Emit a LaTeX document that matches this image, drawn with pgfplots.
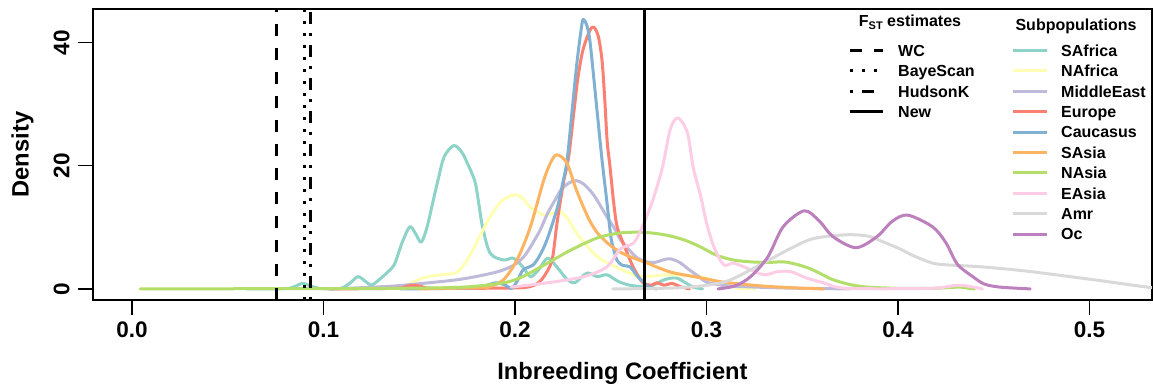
\documentclass[border=0pt]{standalone}
\usepackage{fontspec}
\setmainfont{Liberation Sans}
\usepackage{pgfplots}
\pgfplotsset{compat=1.18}
\definecolor{cSAf}{HTML}{8DD3C7}
\definecolor{cNAf}{HTML}{FFFFB3}
\definecolor{cME}{HTML}{BEBADA}
\definecolor{cEu}{HTML}{FB8072}
\definecolor{cCa}{HTML}{80B1D3}
\definecolor{cSAs}{HTML}{FDB462}
\definecolor{cNAs}{HTML}{B3DE69}
\definecolor{cEAs}{HTML}{FCCDE5}
\definecolor{cAmr}{HTML}{D9D9D9}
\definecolor{cOc}{HTML}{BC80BD}
\begin{document}
\begin{tikzpicture}[x=1pt,y=1pt]
\begin{axis}[at={(93pt,87pt)}, anchor=south west, scale only axis,
 width=1059pt, height=291pt,
 xmin=-0.0204, xmax=0.5326, ymin=-1.8, ymax=45.5,
 axis line style={line width=2.5pt},
 xtick={0,0.1,0.2,0.3,0.4,0.5}, xticklabels={0.0,0.1,0.2,0.3,0.4,0.5},
 ytick={0,20,40}, yticklabels={0,20,40},
 /pgf/number format/assume math mode=true,
 tick align=outside, xtick pos=bottom, ytick pos=left,
 major tick length=15pt, tick style={line width=1.2pt, black},
 ticklabel style={font=\fontsize{22.5}{27}\selectfont\bfseries},
 xticklabel style={anchor=base, inner sep=0pt, yshift=-23pt},
 yticklabel style={xshift=-8.5pt, rotate=90, anchor=base, inner sep=0pt},
 xlabel={Inbreeding Coefficient}, ylabel={Density},
 label style={font=\fontsize{23.7}{28}\selectfont\bfseries},
 xlabel style={at={(axis description cs:0.5,-0.2749)}, anchor=base, inner sep=0pt},
 ylabel style={at={(axis description cs:-0.0560,0.5)}, anchor=south, inner sep=0pt},
 every axis plot/.append style={line width=3pt, line join=round, line cap=round, no markers},
]
% SAfrica
\addplot[cSAf, smooth, tension=0.5] coordinates {(0.060,0) (0.080,0.05) (0.085,0.4) (0.089,0.9) (0.094,0.4) (0.099,0.05) (0.109,0.1) (0.114,1.0) (0.118,2.0) (0.122,1.2) (0.125,0.6) (0.129,1.5) (0.133,2.6) (0.137,4.0) (0.141,7.5) (0.145,10.1) (0.148,9.0) (0.151,7.6) (0.154,10) (0.157,14) (0.160,18) (0.163,21.5) (0.168,23.3) (0.172,22.3) (0.175,20.5) (0.179,17.5) (0.181,14) (0.183,10.1) (0.187,5.8) (0.194,4.7) (0.199,5.0) (0.204,3.6) (0.208,2.0) (0.212,3.0) (0.217,5.0) (0.222,3.5) (0.227,1.6) (0.231,1.0) (0.235,2.0) (0.238,2.6) (0.243,2.0) (0.248,2.3) (0.254,1.2) (0.260,0.6) (0.266,0.4) (0.272,0.6) (0.278,1.5) (0.284,1.8) (0.289,1.0) (0.293,0.3) (0.298,0)};
% NAfrica
\addplot[cNAf, smooth, tension=0.5] coordinates {(0.130,0) (0.140,0.3) (0.146,1.0) (0.152,1.8) (0.161,2.3) (0.169,2.6) (0.173,3.8) (0.177,5.8) (0.182,8.8) (0.187,11.7) (0.193,14.3) (0.200,15.3) (0.204,14.7) (0.208,13.3) (0.215,12.0) (0.220,12.3) (0.224,12.5) (0.228,11.2) (0.232,9.1) (0.237,7.2) (0.241,5.8) (0.246,4.6) (0.251,3.8) (0.258,2.8) (0.265,2.0) (0.272,2.1) (0.279,2.3) (0.288,2.2) (0.297,2.0) (0.307,1.0) (0.317,0.1) (0.325,0)};
% MiddleEast
\addplot[cME, smooth, tension=0.5] coordinates {(0.103,0) (0.120,0.2) (0.138,0.5) (0.155,1.0) (0.170,1.5) (0.181,2.1) (0.191,2.8) (0.197,3.5) (0.201,4.2) (0.205,5.4) (0.208,6.8) (0.213,9.5) (0.217,12.3) (0.221,14.5) (0.224,16.1) (0.228,17.2) (0.232,17.6) (0.236,17.0) (0.241,15.3) (0.245,13.3) (0.248,11.7) (0.252,9.8) (0.255,8.0) (0.260,6.2) (0.264,5.0) (0.269,4.4) (0.273,4.3) (0.277,4.7) (0.281,4.9) (0.286,4.3) (0.291,3.1) (0.296,2.0) (0.300,1.1) (0.308,0.6) (0.317,0.4) (0.335,0.2) (0.349,0.1) (0.375,0)};
% Europe
\addplot[cEu, smooth, tension=0.5] coordinates {(0.103,0) (0.138,0.1) (0.143,0.4) (0.147,0.6) (0.151,0.4) (0.156,0.1) (0.180,0.1) (0.203,0.2) (0.210,0.6) (0.2146,1.8) (0.2193,4.7) (0.2219,10.7) (0.2251,17) (0.2280,21.5) (0.2308,29) (0.2329,34.5) (0.2355,38.9) (0.2392,42.1) (0.2413,42.5) (0.2435,41) (0.2454,37.2) (0.2468,31) (0.2481,24) (0.2496,19.8) (0.2515,14) (0.2533,10.1) (0.2564,7.5) (0.2590,5.5) (0.2616,3.6) (0.2645,2.0) (0.2668,1.0) (0.271,0.6) (0.274,1.0) (0.278,0.6) (0.282,0.9) (0.286,0.4) (0.291,0)};
% Caucasus
\addplot[cCa, smooth, tension=0.5] coordinates {(0.140,0) (0.170,0.1) (0.182,0.3) (0.190,1.0) (0.195,0.6) (0.1984,0.1) (0.2015,1.5) (0.2042,3.1) (0.2094,3.9) (0.2130,5.5) (0.2167,8) (0.2219,13) (0.2251,17.5) (0.2272,21) (0.2298,29) (0.2324,37) (0.2350,43.2) (0.2360,43.7) (0.2375,42.8) (0.2392,40) (0.2428,29) (0.2454,21) (0.2480,14) (0.2500,8.5) (0.2512,6.8) (0.2533,4.6) (0.2564,3.8) (0.2600,3.6) (0.2640,2.0) (0.2668,1.2) (0.2700,0.3) (0.274,0)};
% SAsia
\addplot[cSAs, smooth, tension=0.5] coordinates {(0.150,0) (0.182,0.2) (0.187,0.4) (0.194,1.5) (0.201,4.7) (0.208,10.1) (0.215,17.7) (0.219,20.8) (0.222,21.8) (0.227,20.5) (0.232,16.1) (0.238,11.7) (0.243,9.1) (0.250,7.0) (0.256,5.8) (0.262,5.0) (0.269,4.2) (0.276,3.3) (0.283,2.6) (0.297,1.8) (0.309,1.1) (0.328,0.5) (0.344,0.2) (0.361,0)};
% NAsia
\addplot[cNAs, smooth, tension=0.5] coordinates {(0.0042,0) (0.088,0.05) (0.140,0.1) (0.173,0.3) (0.194,1.0) (0.204,2.0) (0.217,4.2) (0.229,6.3) (0.243,8.3) (0.255,9.1) (0.267,9.2) (0.278,8.8) (0.288,8.0) (0.297,6.8) (0.305,5.5) (0.314,4.7) (0.323,4.4) (0.332,4.3) (0.340,4.4) (0.347,4.0) (0.354,3.3) (0.360,2.4) (0.366,1.5) (0.375,0.7) (0.384,0.3) (0.400,0.1) (0.418,0.1) (0.426,0.2) (0.432,0.3) (0.437,0.1) (0.440,0)};
% EAsia
\addplot[cEAs, smooth, tension=0.5] coordinates {(0.198,0.3) (0.217,1.0) (0.236,2.0) (0.248,3.6) (0.255,6.5) (0.262,7.5) (0.267,10.5) (0.272,14.5) (0.277,19.8) (0.281,25.9) (0.285,27.8) (0.290,25.4) (0.293,19.8) (0.297,15) (0.300,10.7) (0.304,6.7) (0.309,3.9) (0.314,4.2) (0.321,3.4) (0.330,2.3) (0.337,2.8) (0.344,2.8) (0.352,1.8) (0.361,1.0) (0.373,0.1) (0.417,0.1) (0.432,0.6) (0.444,0)};
% Amr
\addplot[cAmr, smooth, tension=0.5] coordinates {(0.251,0) (0.286,0.2) (0.309,1.1) (0.326,3.6) (0.344,6.6) (0.356,8.2) (0.373,8.8) (0.384,8.6) (0.391,7.8) (0.401,6.5) (0.408,5.4) (0.418,4.2) (0.426,3.9) (0.443,3.6) (0.467,2.9) (0.502,1.5) (0.533,0.2) (0.55,0)};
% Oc
\addplot[cOc, smooth, tension=0.5] coordinates {(0.306,0) (0.315,0.5) (0.323,2.0) (0.332,5.2) (0.340,10.1) (0.351,12.7) (0.359,11) (0.366,8.5) (0.378,6.7) (0.389,8.5) (0.397,11) (0.405,12.0) (0.418,10.1) (0.425,7.5) (0.431,4.0) (0.439,2.0) (0.445,0.8) (0.453,0.3) (0.469,0)};
% F_ST estimates
\addplot[black, line cap=butt, dash pattern=on 12pt off 12pt] coordinates {(0.0752,-1.8) (0.0752,45.5)};
\addplot[black, line cap=butt, dash pattern=on 3pt off 9pt] coordinates {(0.0898,-1.8) (0.0898,45.5)};
\addplot[black, line cap=butt, dash pattern=on 3pt off 9pt on 12pt off 9pt] coordinates {(0.0930,-1.8) (0.0930,45.5)};
\addplot[black, line cap=butt] coordinates {(0.2674,-1.8) (0.2674,45.5)};
\end{axis}
% legends
\begin{scope}[font=\fontsize{16}{19}\selectfont\bfseries]
\node[anchor=base, inner sep=0pt] at (910,360) {F\raisebox{-3pt}{\fontsize{11}{13}\selectfont ST} estimates};
\draw[line width=3pt, dash pattern=on 12pt off 12pt] (850,336.5) -- (883,336.5);
\draw[line width=3pt, dash pattern=on 3pt off 9pt] (850,316.1) -- (883,316.1);
\draw[line width=3pt, dash pattern=on 3pt off 9pt on 12pt off 9pt] (850,295.7) -- (883,295.7);
\draw[line width=3pt] (850,275.3) -- (883,275.3);
\node[anchor=base west, inner sep=0pt] at (898,330.7) {WC};
\node[anchor=base west, inner sep=0pt] at (898,310.3) {BayeScan};
\node[anchor=base west, inner sep=0pt] at (898,289.9) {HudsonK};
\node[anchor=base west, inner sep=0pt] at (898,269.5) {New};
\node[anchor=base, inner sep=0pt] at (1076,356) {Subpopulations};
\foreach \c/\t [count=\i from 0] in {cSAf/SAfrica,cNAf/NAfrica,cME/MiddleEast,cEu/Europe,cCa/Caucasus,cSAs/SAsia,cNAs/NAsia,cEAs/EAsia,cAmr/Amr,cOc/Oc}{
  \pgfmathsetmacro{\yy}{336.5-20.4*\i}
  \draw[\c, line width=3pt] (1013,\yy) -- (1047,\yy);
  \node[anchor=base west, inner sep=0pt] at (1061,\yy-5.8) {\t};
}
\end{scope}
\pgfresetboundingbox
\path (0,0) rectangle (1153,387);
\end{tikzpicture}
\end{document}
